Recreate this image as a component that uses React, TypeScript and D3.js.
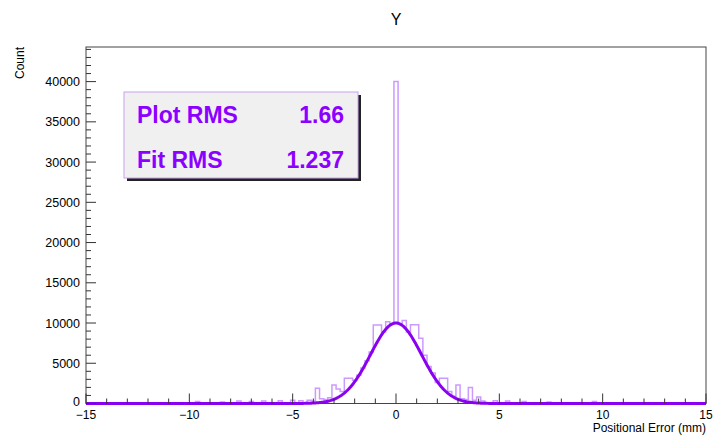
import React from "react";
import * as d3 from "d3";

const W = 714;
const H = 435;

// Histogram core bins (bin width 0.2, centred on listed values)
const coreCenters = [
  -4.2, -4.0, -3.8, -3.6, -3.4, -3.2, -3.0, -2.8, -2.6, -2.4, -2.2, -2.0, -1.8, -1.6, -1.4,
  -1.2, -1.0, -0.8, -0.6, -0.4, -0.2, 0.0, 0.2, 0.4, 0.6, 0.8, 1.0, 1.2, 1.4, 1.6, 1.8, 2.0,
  2.2, 2.4, 2.6, 2.8, 3.0, 3.2, 3.4, 3.6, 3.8, 4.0, 4.2,
];
const coreCounts = [
  400, 300, 1900, 600, 500, 700, 2300, 1800, 1500, 3150, 3150, 2900, 3500, 4400, 5300,
  6400, 9750, 9750, 8900, 10150, 9900, 40000, 9900, 10300, 8900, 9800, 9800, 8100, 6000, 4600, 3800, 2600,
  3150, 3150, 1500, 900, 2300, 600, 500, 2000, 400, 800, 300,
];
// Sparse tail bins
const tailCenters = [-9.6, -8.4, -7.6, -7.0, -6.4, -5.6, -5.0, -4.6, 4.8, 5.4, 6.2, 7.4, 9.6];
const tailCounts = [250, 200, 300, 250, 300, 350, 400, 350, 350, 300, 250, 200, 250];

const binWidth = 0.2;

// Gaussian fit parameters
const fitAmp = 10000;
const fitMean = 0;
const fitSigma = 1.237;

const xTicks = [-15, -10, -5, 0, 5, 10, 15];
const yTicks = [0, 5000, 10000, 15000, 20000, 25000, 30000, 35000, 40000];

const statLabels = ["Plot RMS", "Fit RMS"];
const statValues = ["1.66", "1.237"];

const frame = { left: 86, right: 706, top: 47, bottom: 403.5 };
const FONT = "'Liberation Sans', Arial, Helvetica, sans-serif";
const HIST_COLOR = "#cc99ff";
const FIT_COLOR = "#8a00f0";
const TEXT_COLOR = "#8c00ff";

export default function App() {
  const x = d3.scaleLinear().domain([-15, 15]).range([frame.left, frame.right]);
  const y = d3.scaleLinear().domain([0, 44300]).range([frame.bottom, frame.top]);

  // Build the histogram bins
  const bins: { c: number; v: number }[] = [];
  coreCenters.forEach((c, i) => bins.push({ c, v: coreCounts[i] }));
  tailCenters.forEach((c, i) => bins.push({ c, v: tailCounts[i] }));
  bins.sort((a, b) => a.c - b.c);

  // step outline: only drop to zero where bins are not adjacent
  const pts: [number, number][] = [[-15, 0]];
  let prevEdge = -Infinity;
  bins.forEach((b) => {
    const x0 = b.c - binWidth / 2;
    const x1 = b.c + binWidth / 2;
    if (Math.abs(x0 - prevEdge) > 1e-6) {
      if (prevEdge > -Infinity) pts.push([prevEdge, 0]);
      pts.push([x0, 0]);
    }
    pts.push([x0, b.v], [x1, b.v]);
    prevEdge = x1;
  });
  pts.push([prevEdge, 0]);
  pts.push([15, 0]);
  const lineGen = d3
    .line<[number, number]>()
    .x((d) => x(d[0]))
    .y((d) => y(d[1]));
  const histPath = lineGen(pts) || "";

  const fitPts: [number, number][] = d3
    .range(-15, 15.001, 0.05)
    .map((t) => [t, fitAmp * Math.exp(-((t - fitMean) ** 2) / (2 * fitSigma * fitSigma))]);
  const fitPath = lineGen(fitPts) || "";

  const xMinor = d3.range(-15, 15.001, 1);
  const yMinor = d3.range(0, 44001, 1000);

  const box = { x: 124, y: 92, w: 234, h: 86 };

  return (
    <svg
      width={W}
      height={H}
      style={{ position: "absolute", left: 0, top: 0, background: "#fff" }}
      fontFamily={FONT}
    >
      <defs>
        <clipPath id="frameClip">
          <rect x={frame.left} y={frame.top} width={frame.right - frame.left} height={frame.bottom - frame.top + 2} />
        </clipPath>
      </defs>
      <rect x={0} y={0} width={W} height={H} fill="#fff" />

      {/* title */}
      <text x={396} y={25} fontSize={16} textAnchor="middle" fill="#000">
        Y
      </text>

      {/* data */}
      <g clipPath="url(#frameClip)">
        <path d={histPath} fill="none" stroke={HIST_COLOR} strokeWidth={1.5} />
        <path d={fitPath} fill="none" stroke={FIT_COLOR} strokeWidth={3} strokeLinejoin="round" />
      </g>

      {/* frame */}
      <rect
        x={frame.left}
        y={frame.top}
        width={frame.right - frame.left}
        height={frame.bottom - frame.top}
        fill="none"
        stroke="#444"
        strokeWidth={1}
      />

      {/* x ticks */}
      {xMinor.map((t) => {
        const major = xTicks.includes(Math.round(t));
        return (
          <line
            key={"xm" + t}
            x1={x(t)}
            x2={x(t)}
            y1={frame.bottom}
            y2={frame.bottom - (major ? 10 : 5)}
            stroke="#333"
            strokeWidth={1}
          />
        );
      })}
      {xTicks.map((t) => (
        <text key={"xl" + t} x={x(t)} y={419} fontSize={12} textAnchor="middle" fill="#000">
          {t < 0 ? "\u2212" + Math.abs(t) : String(t)}
        </text>
      ))}

      {/* y ticks */}
      {yMinor.map((t) => {
        const major = t % 5000 === 0;
        return (
          <line
            key={"ym" + t}
            x1={frame.left}
            x2={frame.left + (major ? 10 : 5)}
            y1={y(t)}
            y2={y(t)}
            stroke="#333"
            strokeWidth={1}
          />
        );
      })}
      {yTicks.map((t) => (
        <text key={"yl" + t} x={80} y={y(t) + (t === 0 ? 2 : 4.5)} fontSize={12.5} textAnchor="end" fill="#000">
          {t}
        </text>
      ))}

      {/* axis titles */}
      <text x={706} y={432} fontSize={12} textAnchor="end" fill="#000">
        Positional Error (mm)
      </text>
      <text
        transform={`translate(24, ${frame.top}) rotate(-90)`}
        fontSize={12}
        textAnchor="end"
        fill="#000"
      >
        Count
      </text>

      {/* stats box */}
      <rect x={box.x + 3} y={box.y + 3} width={box.w} height={box.h} fill="#222" />
      <rect x={box.x} y={box.y} width={box.w} height={box.h} fill="#f0f0f0" stroke="#c9a0f5" strokeWidth={1} />
      {statLabels.map((s, i) => (
        <g key={s}>
          <text x={137} y={123 + i * 44.5} fontSize={23} fontWeight="bold" fill={TEXT_COLOR}>
            {s}
          </text>
          <text x={344} y={123 + i * 44.5} fontSize={23} fontWeight="bold" textAnchor="end" fill={TEXT_COLOR}>
            {statValues[i]}
          </text>
        </g>
      ))}
    </svg>
  );
}
